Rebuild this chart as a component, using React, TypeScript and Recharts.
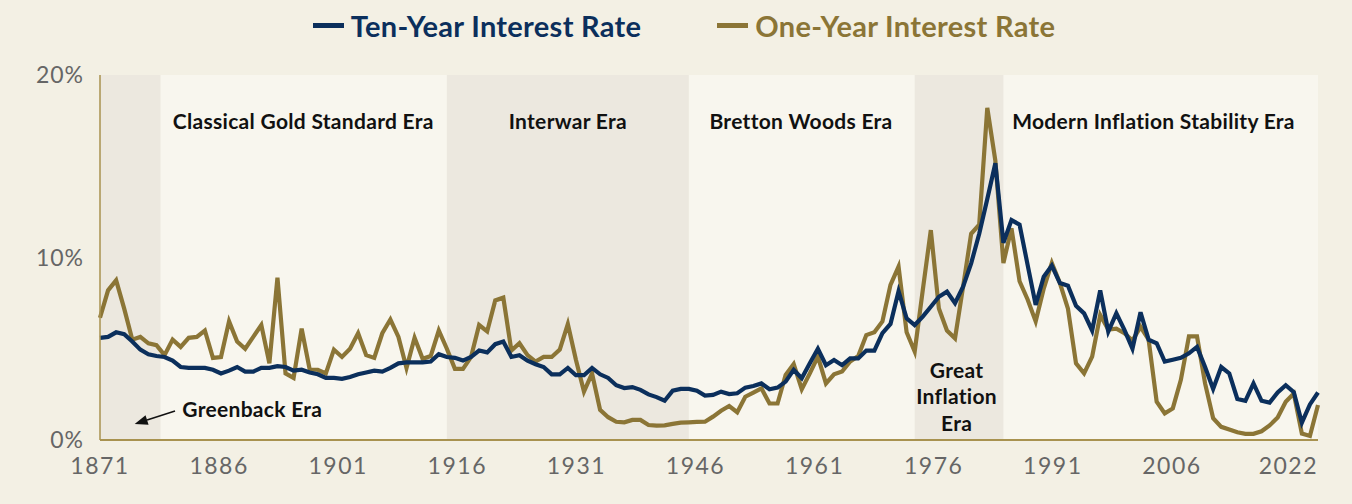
import { LineChart, Line, XAxis, YAxis, CartesianGrid, ReferenceArea, ReferenceDot, ReferenceLine } from "recharts";

const FIRST_YEAR = 1871;

// % per year, 1871 .. 2022
const TEN_YEAR = [
  5.6, 5.65, 5.9, 5.8, 5.4, 4.95, 4.7, 4.6, 4.55, 4.35,
  4.0, 3.95, 3.95, 3.95, 3.85, 3.65, 3.8, 4.0, 3.75, 3.75,
  3.95, 3.95, 4.05, 4.0, 3.8, 3.85, 3.7, 3.6, 3.4, 3.4,
  3.35, 3.45, 3.6, 3.7, 3.8, 3.75, 3.95, 4.2, 4.25, 4.25,
  4.25, 4.3, 4.7, 4.55, 4.5, 4.35, 4.55, 4.9, 4.8, 5.25,
  5.4, 4.55, 4.65, 4.35, 4.15, 4.0, 3.6, 3.6, 3.95, 3.55,
  3.55, 3.95, 3.6, 3.4, 3.0, 2.85, 2.9, 2.75, 2.5, 2.35,
  2.15, 2.7, 2.8, 2.8, 2.7, 2.43, 2.47, 2.65, 2.52, 2.56,
  2.87, 2.96, 3.1, 2.78, 2.87, 3.2, 3.84, 3.38, 4.2, 5.0,
  4.1, 4.38, 4.1, 4.47, 4.47, 4.9, 4.9, 5.85, 6.36, 8.15,
  6.67, 6.3, 6.76, 7.3, 7.85, 8.13, 7.5, 8.4, 9.68, 11.3,
  13.2, 15.16, 10.8, 12.05, 11.8, 9.6, 7.4, 8.95, 9.55, 8.6,
  8.45, 7.35, 6.94, 6.0, 8.2, 5.94, 6.94, 6.03, 5.0, 7.0,
  5.5, 5.3, 4.3, 4.4, 4.5, 4.75, 5.1, 4.0, 2.8, 4.0,
  3.65, 2.25, 2.15, 3.1, 2.15, 2.05, 2.6, 3.0, 2.62, 0.95,
  1.95, 2.6,
];

const ONE_YEAR = [
  6.7, 8.2, 8.75, 7.2, 5.5, 5.65, 5.3, 5.2, 4.65, 5.5,
  5.1, 5.6, 5.65, 6.0, 4.5, 4.55, 6.5, 5.4, 5.0, 5.65,
  6.3, 4.2, 8.9, 3.65, 3.4, 6.1, 3.85, 3.85, 3.65, 4.95,
  4.55, 5.0, 5.85, 4.65, 4.5, 5.85, 6.6, 5.65, 3.95, 5.6,
  4.45, 4.6, 6.0, 5.0, 3.9, 3.9, 4.55, 6.3, 5.95, 7.65,
  7.8, 4.9, 5.3, 4.65, 4.3, 4.55, 4.55, 4.95, 6.35, 4.4,
  2.65, 3.65, 1.65, 1.25, 1.0, 0.97, 1.1, 1.1, 0.82, 0.79,
  0.8, 0.88, 0.95, 0.97, 0.99, 1.0, 1.28, 1.6, 1.86, 1.52,
  2.37, 2.6, 2.83, 2.0, 2.0, 3.56, 4.16, 2.78, 3.65, 4.57,
  3.1, 3.6, 3.75, 4.3, 4.6, 5.75, 5.9, 6.5, 8.5, 9.5,
  5.9, 4.85, 8.2, 11.5, 7.2, 6.0, 5.57, 8.4, 11.3, 11.8,
  18.2, 15.3, 9.7, 11.6, 8.7, 7.7, 6.5, 8.3, 9.7, 8.6,
  7.2, 4.2, 3.65, 4.57, 6.85, 6.05, 6.1, 5.85, 5.45, 6.2,
  5.5, 2.1, 1.46, 1.73, 3.3, 5.68, 5.68, 3.1, 1.19, 0.72,
  0.57, 0.42, 0.34, 0.34, 0.48, 0.8, 1.23, 2.1, 2.55, 0.35,
  0.22, 1.92,
];

const YEAR_TICKS = [1871, 1886, 1901, 1916, 1931, 1946, 1961, 1976, 1991, 2006, 2022];
const PCT_TICKS = [0, 10, 20];

// shaded eras [from, to]
const SHADED_ERAS = [
  [1871, 1878.5],
  [1914, 1944],
  [1972, 1983],
];

const NAVY = "#0b2f5c";
const GOLD = "#8b7536";
const AXIS = "#a8924f";
const TICK = "#666666";

const W = 1352;
const H = 504;
const MARGIN = { top: 75, right: 34, bottom: 24, left: 40 };
const PLOT_RIGHT = W - MARGIN.right;

const data = TEN_YEAR.map((v, i) => ({ year: FIRST_YEAR + i, ten: v, one: ONE_YEAR[i] }));

// the last label is pulled in so it ends at the plot edge
function YearTick({ x, y, payload, index, visibleTicksCount }: any) {
  const last = index === visibleTicksCount - 1;
  return (
    <text
      x={last ? PLOT_RIGHT : x}
      y={y}
      dy={16}
      textAnchor={last ? "end" : "middle"}
      fill={TICK}
      fontSize={23}
      letterSpacing={1.5}
    >
      {payload.value}
    </text>
  );
}

const eraText =
  (label: string, anchor: "middle" | "start" = "middle") =>
  (p: any) => (
    <text
      x={p.cx}
      y={p.cy}
      textAnchor={anchor}
      dominantBaseline="central"
      fontSize={21}
      fontWeight={700}
      letterSpacing={0.3}
      fill="#111"
    >
      {label}
    </text>
  );

function Arrow({ x1, y1, x2, y2 }: any) {
  const a = Math.atan2(y2 - y1, x2 - x1);
  const len = 13;
  const half = 5;
  const bx = x2 - len * Math.cos(a);
  const by = y2 - len * Math.sin(a);
  const px = -Math.sin(a) * half;
  const py = Math.cos(a) * half;
  return (
    <g>
      <line x1={x1} y1={y1} x2={bx} y2={by} stroke="#111" strokeWidth={1.5} />
      <polygon points={`${x2},${y2} ${bx + px},${by + py} ${bx - px},${by - py}`} fill="#111" />
    </g>
  );
}

function LegendItem({ color, label }: { color: string; label: string }) {
  return (
    <div style={{ display: "flex", alignItems: "center" }}>
      <span style={{ display: "inline-block", width: 31, height: 5, background: color, marginRight: 7 }} />
      <span style={{ color, fontSize: 29, fontWeight: 700, letterSpacing: 0.3 }}>{label}</span>
    </div>
  );
}

export default function App() {
  return (
    <div
      style={{
        position: "absolute",
        left: 0,
        top: 0,
        width: W,
        height: H,
        background: "#f3f0e4",
        fontFamily: "Lato, sans-serif",
      }}
    >
      <div
        style={{
          position: "absolute",
          left: 8,
          top: 4,
          width: W,
          height: 42,
          display: "flex",
          justifyContent: "center",
          alignItems: "center",
          gap: 76,
        }}
      >
        <LegendItem color={NAVY} label="Ten-Year Interest Rate" />
        <LegendItem color={GOLD} label="One-Year Interest Rate" />
      </div>
      <LineChart width={W} height={H} data={data} margin={MARGIN} style={{ fontFamily: "Lato, sans-serif" }}>
        <CartesianGrid xAxisId="data" fill="#f8f6ee" horizontal={false} vertical={false} />
        {SHADED_ERAS.map(([from, to]) => (
          <ReferenceArea
            key={from}
            xAxisId="data"
            x1={from}
            x2={to}
            fill="#ece8df"
            fillOpacity={1}
            stroke="none"
          />
        ))}
        <XAxis xAxisId="data" dataKey="year" type="number" domain={[1871, 2022]} height={0} hide />
        {/* year labels sit on a slightly wider scale than the data in the original */}
        <XAxis
          xAxisId="labels"
          dataKey="year"
          type="number"
          domain={[1871, 2024.4]}
          allowDataOverflow
          ticks={YEAR_TICKS}
          interval={0}
          height={40}
          tickLine={false}
          tickSize={0}
          tickMargin={18}
          axisLine={{ stroke: AXIS, strokeWidth: 2 }}
          tick={<YearTick />}
        />
        <YAxis
          domain={[0, 20]}
          ticks={PCT_TICKS}
          width={60}
          tickLine={false}
          tickSize={0}
          tickMargin={16}
          axisLine={{ stroke: AXIS, strokeWidth: 1.5 }}
          tick={{ fill: TICK, fontSize: 23, letterSpacing: 1 }}
          tickFormatter={(v) => `${v}%`}
        />
        <Line xAxisId="data" dataKey="one" stroke={GOLD} strokeWidth={4.2} dot={false} isAnimationActive={false} />
        <Line xAxisId="data" dataKey="ten" stroke={NAVY} strokeWidth={4.2} dot={false} isAnimationActive={false} />

        <ReferenceDot xAxisId="data" x={1896.2} y={17.5} r={0} shape={eraText("Classical Gold Standard Era")} />
        <ReferenceDot xAxisId="data" x={1929} y={17.5} r={0} shape={eraText("Interwar Era")} />
        <ReferenceDot xAxisId="data" x={1957.9} y={17.5} r={0} shape={eraText("Bretton Woods Era")} />
        <ReferenceDot xAxisId="data" x={2001.6} y={17.5} r={0} shape={eraText("Modern Inflation Stability Era")} />
        <ReferenceDot xAxisId="data" x={1977.2} y={3.89} r={0} shape={eraText("Great")} />
        <ReferenceDot xAxisId="data" x={1977.2} y={2.44} r={0} shape={eraText("Inflation")} />
        <ReferenceDot xAxisId="data" x={1977.2} y={0.96} r={0} shape={eraText("Era")} />
        <ReferenceDot xAxisId="data" x={1881.2} y={1.75} r={0} shape={eraText("Greenback Era", "start")} />
        <ReferenceLine
          xAxisId="data"
          segment={[
            { x: 1880.3, y: 1.59 },
            { x: 1875.3, y: 0.88 },
          ]}
          shape={Arrow}
        />
      </LineChart>
    </div>
  );
}
